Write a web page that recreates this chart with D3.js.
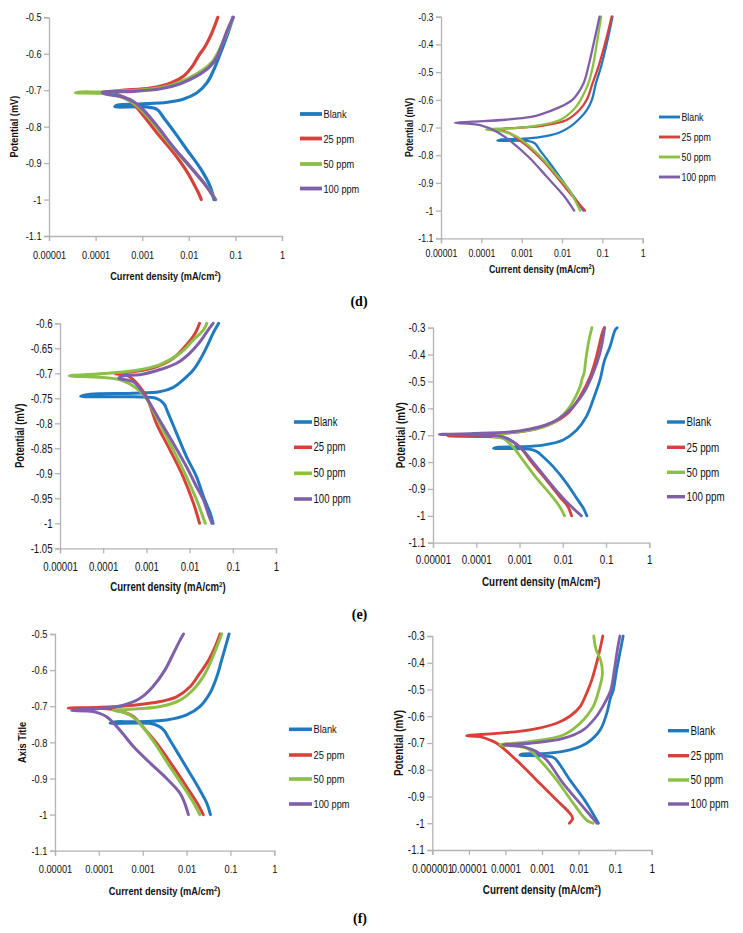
<!DOCTYPE html>
<html><head><meta charset="utf-8">
<script src="https://cdn.jsdelivr.net/npm/d3@7"></script>
<style>
html,body{margin:0;padding:0;background:#fff;}
text{font-family:"Liberation Sans",Arial,sans-serif;}
</style></head>
<body>
<svg id="c" width="743" height="933"></svg>
<script>
// ---- data ----
const seriesNames = ["Blank","25 ppm","50 ppm","100 ppm"];
const seriesColors = ["#1f7ac0","#d8403a","#8cbf45","#7f5fa8"];
const xTickLabels5 = ["0.00001","0.0001","0.001","0.01","0.1","1"];
const xTickLabels6 = ["0.000001","0.00001","0.0001","0.001","0.01","0.1","1"];
const yTicksA = [-0.5,-0.6,-0.7,-0.8,-0.9,-1,-1.1];
const yTicksB = [-0.3,-0.4,-0.5,-0.6,-0.7,-0.8,-0.9,-1,-1.1];
const yTicksC = [-0.6,-0.65,-0.7,-0.75,-0.8,-0.85,-0.9,-0.95,-1,-1.05];
const panelLabels = ["(d)","(e)","(f)"];

// [current density (mA/cm2), potential]
const p1Blank = [[0.0347,-1.0],[0.029,-0.965],[0.0176,-0.914],[0.0092,-0.864],[0.0048,-0.813],[0.0029,-0.776],[0.0021,-0.753],[0.0012,-0.746],[0.00026,-0.745],[0.0003,-0.741],[0.0009,-0.738],[0.0035,-0.733],[0.0078,-0.724],[0.015,-0.707],[0.0245,-0.68],[0.0347,-0.643],[0.044,-0.61],[0.065,-0.553],[0.082,-0.515],[0.088,-0.5]];
const p1P25 = [[0.0185,-1.0],[0.0172,-0.99],[0.015,-0.974],[0.0092,-0.924],[0.0048,-0.873],[0.0021,-0.818],[0.0011,-0.772],[0.00056,-0.73],[0.00029,-0.712],[0.00015,-0.707],[0.00022,-0.703],[0.00041,-0.7],[0.0015,-0.694],[0.0041,-0.68],[0.0078,-0.661],[0.012,-0.634],[0.016,-0.607],[0.0224,-0.58],[0.031,-0.544],[0.042,-0.5]];
const p1P50 = [[0.038,-1.0],[0.023,-0.96],[0.0098,-0.905],[0.0042,-0.852],[0.0018,-0.793],[0.00098,-0.755],[0.0006,-0.733],[0.00035,-0.718],[0.00015,-0.709],[0.000037,-0.707],[0.00005,-0.705],[0.00015,-0.705],[0.00041,-0.702],[0.0009,-0.7],[0.0035,-0.689],[0.0092,-0.669],[0.02,-0.645],[0.032,-0.622],[0.045,-0.59],[0.062,-0.55],[0.09,-0.5]];
const p1P100 = [[0.037,-1.0],[0.024,-0.964],[0.0106,-0.909],[0.0046,-0.855],[0.002,-0.795],[0.00106,-0.754],[0.00065,-0.731],[0.00039,-0.719],[0.00015,-0.709],[0.00014,-0.706],[0.00066,-0.703],[0.0025,-0.696],[0.0066,-0.682],[0.015,-0.661],[0.029,-0.634],[0.04,-0.61],[0.05,-0.58],[0.065,-0.54],[0.09,-0.5]];

const p2Blank = [[0.034,-1.0],[0.021,-0.956],[0.0107,-0.896],[0.005,-0.829],[0.0028,-0.781],[0.0021,-0.757],[0.0015,-0.749],[0.00025,-0.748],[0.0003,-0.744],[0.001,-0.741],[0.0028,-0.735],[0.0081,-0.72],[0.016,-0.697],[0.025,-0.673],[0.041,-0.637],[0.055,-0.6],[0.069,-0.541],[0.093,-0.48],[0.129,-0.396],[0.178,-0.3]];
const p2P25 = [[0.037,-1.0],[0.016,-0.938],[0.0074,-0.878],[0.0035,-0.823],[0.0016,-0.775],[0.00076,-0.739],[0.00052,-0.722],[0.0003,-0.706],[0.0008,-0.701],[0.0035,-0.693],[0.013,-0.673],[0.027,-0.637],[0.041,-0.6],[0.057,-0.541],[0.08,-0.48],[0.117,-0.396],[0.17,-0.3]];
const p2P50 = [[0.028,-1.0],[0.016,-0.932],[0.0074,-0.872],[0.0035,-0.817],[0.0016,-0.769],[0.00076,-0.733],[0.00035,-0.715],[0.00013,-0.707],[0.0005,-0.703],[0.0016,-0.697],[0.0089,-0.673],[0.019,-0.637],[0.029,-0.6],[0.045,-0.541],[0.058,-0.48],[0.073,-0.396],[0.093,-0.3]];
const p2P100 = [[0.02,-1.0],[0.0107,-0.944],[0.0042,-0.878],[0.0016,-0.811],[0.00062,-0.757],[0.00024,-0.715],[0.000093,-0.691],[0.000022,-0.683],[0.00006,-0.679],[0.0004,-0.672],[0.0017,-0.662],[0.0035,-0.649],[0.0074,-0.631],[0.018,-0.6],[0.034,-0.541],[0.045,-0.48],[0.061,-0.396],[0.085,-0.3]];

const p3Blank = [[0.035,-1.0],[0.03,-0.98],[0.021,-0.947],[0.0145,-0.907],[0.0085,-0.867],[0.005,-0.82],[0.0032,-0.78],[0.0025,-0.76],[0.0017,-0.75],[0.0005,-0.747],[0.00003,-0.746],[0.00005,-0.742],[0.0005,-0.74],[0.002,-0.737],[0.0042,-0.728],[0.0071,-0.713],[0.0123,-0.693],[0.0174,-0.673],[0.025,-0.647],[0.035,-0.62],[0.047,-0.6]];
const p3P25 = [[0.017,-1.0],[0.0123,-0.96],[0.0071,-0.907],[0.0035,-0.853],[0.0017,-0.8],[0.001,-0.747],[0.0005,-0.713],[0.00035,-0.704],[0.00019,-0.701],[0.0005,-0.697],[0.0017,-0.687],[0.0042,-0.67],[0.0085,-0.643],[0.0135,-0.62],[0.017,-0.6]];
const p3P50 = [[0.023,-1.0],[0.0145,-0.953],[0.0071,-0.893],[0.0035,-0.84],[0.0017,-0.787],[0.001,-0.75],[0.00059,-0.73],[0.00025,-0.713],[0.000085,-0.708],[0.0000165,-0.705],[0.000085,-0.701],[0.0005,-0.695],[0.002,-0.683],[0.006,-0.66],[0.0123,-0.633],[0.021,-0.613],[0.025,-0.6]];
const p3P100 = [[0.033,-1.0],[0.028,-0.985],[0.021,-0.953],[0.0145,-0.927],[0.0085,-0.887],[0.0042,-0.84],[0.002,-0.793],[0.0012,-0.76],[0.00085,-0.74],[0.0005,-0.717],[0.00023,-0.71],[0.0003,-0.705],[0.0007,-0.703],[0.002,-0.693],[0.005,-0.68],[0.01,-0.66],[0.0174,-0.637],[0.027,-0.613],[0.035,-0.6]];

const p4Blank = [[0.036,-1.0],[0.03,-0.972],[0.021,-0.935],[0.0123,-0.879],[0.006,-0.817],[0.0035,-0.78],[0.0025,-0.761],[0.0017,-0.752],[0.00025,-0.749],[0.0003,-0.745],[0.001,-0.743],[0.0035,-0.737],[0.0102,-0.718],[0.021,-0.681],[0.035,-0.631],[0.05,-0.569],[0.072,-0.495],[0.093,-0.42],[0.123,-0.371],[0.162,-0.309],[0.18,-0.3]];
const p4P25 = [[0.016,-1.0],[0.0132,-0.966],[0.0085,-0.929],[0.0042,-0.867],[0.002,-0.805],[0.001,-0.743],[0.0005,-0.712],[0.00012,-0.705],[0.000022,-0.703],[0.00012,-0.697],[0.001,-0.688],[0.0042,-0.665],[0.0123,-0.622],[0.025,-0.557],[0.043,-0.482],[0.06,-0.408],[0.081,-0.321],[0.091,-0.3]];
const p4P50 = [[0.011,-1.0],[0.0085,-0.966],[0.005,-0.917],[0.0025,-0.861],[0.0012,-0.793],[0.0007,-0.743],[0.00042,-0.712],[0.00025,-0.706],[0.00042,-0.695],[0.0025,-0.677],[0.0071,-0.646],[0.0145,-0.594],[0.025,-0.52],[0.028,-0.49],[0.031,-0.47],[0.034,-0.42],[0.039,-0.358],[0.047,-0.3]];
const p4P100 = [[0.027,-1.0],[0.0145,-0.96],[0.006,-0.892],[0.0025,-0.817],[0.001,-0.743],[0.00042,-0.706],[0.00012,-0.7],[0.000014,-0.697],[0.00007,-0.694],[0.001,-0.684],[0.005,-0.656],[0.0145,-0.606],[0.03,-0.544],[0.05,-0.47],[0.072,-0.396],[0.093,-0.3]];

const p5Blank = [[0.035,-1.0],[0.029,-0.969],[0.02,-0.932],[0.012,-0.886],[0.0071,-0.84],[0.0042,-0.794],[0.003,-0.766],[0.0023,-0.755],[0.0015,-0.748],[0.00018,-0.747],[0.00025,-0.743],[0.0006,-0.743],[0.0035,-0.738],[0.01,-0.724],[0.02,-0.701],[0.034,-0.664],[0.049,-0.618],[0.063,-0.572],[0.081,-0.526],[0.093,-0.5]];
const p5P25 = [[0.024,-1.0],[0.0186,-0.974],[0.01,-0.923],[0.005,-0.868],[0.0021,-0.803],[0.001,-0.757],[0.00062,-0.729],[0.00026,-0.711],[0.000107,-0.706],[0.00002,-0.705],[0.000107,-0.703],[0.00062,-0.697],[0.0025,-0.687],[0.0059,-0.674],[0.012,-0.646],[0.02,-0.609],[0.032,-0.572],[0.045,-0.535],[0.058,-0.5]];
const p5P50 = [[0.02,-1.0],[0.0155,-0.974],[0.0085,-0.923],[0.0042,-0.868],[0.0019,-0.803],[0.001,-0.757],[0.00072,-0.738],[0.0004,-0.718],[0.00021,-0.711],[0.00045,-0.709],[0.0025,-0.701],[0.0071,-0.683],[0.014,-0.655],[0.024,-0.618],[0.037,-0.572],[0.049,-0.535],[0.063,-0.5]];
const p5P100 = [[0.011,-1.0],[0.0091,-0.969],[0.0071,-0.941],[0.0035,-0.9],[0.0015,-0.858],[0.00062,-0.812],[0.0003,-0.766],[0.00015,-0.729],[0.000074,-0.715],[0.000024,-0.712],[0.000107,-0.706],[0.00036,-0.697],[0.00087,-0.678],[0.0017,-0.646],[0.0032,-0.6],[0.005,-0.554],[0.0071,-0.517],[0.0085,-0.5]];

const p6Blank = [[0.035,-1.0],[0.0166,-0.925],[0.0058,-0.838],[0.0025,-0.764],[0.002,-0.753],[0.00025,-0.745],[0.0003,-0.741],[0.00135,-0.739],[0.0058,-0.726],[0.0166,-0.701],[0.039,-0.651],[0.059,-0.589],[0.075,-0.53],[0.089,-0.502],[0.11,-0.427],[0.14,-0.352],[0.166,-0.3]];
const p6P25 = [[0.0056,-1.0],[0.0069,-0.982],[0.0058,-0.963],[0.0025,-0.913],[0.0007,-0.838],[0.0002,-0.764],[0.000058,-0.701],[0.000038,-0.689],[0.00002,-0.676],[0.0000087,-0.673],[0.000058,-0.664],[0.00047,-0.651],[0.0025,-0.626],[0.0058,-0.6],[0.011,-0.564],[0.0166,-0.514],[0.023,-0.464],[0.031,-0.402],[0.04,-0.34],[0.046,-0.3]];
const p6P50 = [[0.025,-1.0],[0.0166,-0.988],[0.0072,-0.926],[0.0025,-0.838],[0.00087,-0.764],[0.00038,-0.72],[0.00007,-0.707],[0.00047,-0.695],[0.0038,-0.67],[0.011,-0.626],[0.025,-0.564],[0.036,-0.502],[0.045,-0.44],[0.04,-0.39],[0.03,-0.35],[0.026,-0.3]];
const p6P100 = [[0.032,-1.0],[0.011,-0.926],[0.0038,-0.851],[0.00135,-0.764],[0.0007,-0.732],[0.00031,-0.714],[0.000087,-0.707],[0.00047,-0.701],[0.0038,-0.683],[0.0135,-0.651],[0.031,-0.6],[0.052,-0.55],[0.076,-0.502],[0.095,-0.427],[0.115,-0.352],[0.135,-0.3]];

// ---- layout ----
const panels = [
  {series:[p1Blank,p1P25,p1P50,p1P100], x0:49,x1:282,y0:17.3,y1:236, xdom:[1e-5,1], xt:xTickLabels5, ydom:[-1.1,-0.5], yt:yTicksA, ytitle:"Potential (mV)", ytx:14, xlaby:19, xtity:40, leg:{lx:300,lw:22,rows:[114,138.5,164,188.5]}, fs:11.5, lw:3.2},
  {series:[p2Blank,p2P25,p2P50,p2P100], x0:441,x1:642.7,y0:16.7,y1:238.3, xdom:[1e-5,1], xt:xTickLabels5, ydom:[-1.1,-0.3], yt:yTicksB, ytitle:"Potential (mV)", ytx:409, xlaby:14.5, xtity:30.5, leg:{lx:659,lw:21,rows:[117,137,157,177]}, fs:11, lw:2.3},
  {series:[p3Blank,p3P25,p3P50,p3P100], x0:60,x1:276,y0:323.3,y1:548.3, xdom:[1e-5,1], xt:xTickLabels5, ydom:[-1.05,-0.6], yt:yTicksC, ytitle:"Potential (mV)", ytx:20, xlaby:18.5, xtity:38.5, leg:{lx:294,lw:18,rows:[422,447.3,473.3,499]}, fs:12, lw:3},
  {series:[p4Blank,p4P25,p4P50,p4P100], x0:433,x1:649.3,y0:327.7,y1:542.7, xdom:[1e-5,1], xt:xTickLabels5, ydom:[-1.1,-0.3], yt:yTicksB, ytitle:"Potential (mV)", ytx:401, xlaby:17.5, xtity:39, leg:{lx:667,lw:18,rows:[422,447.3,472.3,496.7]}, fs:12.3, lw:2.8},
  {series:[p5Blank,p5P25,p5P50,p5P100], x0:55,x1:274.3,y0:634,y1:850.7, xdom:[1e-5,1], xt:xTickLabels5, ydom:[-1.1,-0.5], yt:yTicksA, ytitle:"Axis Title", ytx:22, xlaby:18.5, xtity:40, leg:{lx:289,lw:23,rows:[729.3,755,779,804]}, fs:11.6, lw:3},
  {series:[p6Blank,p6P25,p6P50,p6P100], x0:432.3,x1:651.7,y0:636,y1:850, xdom:[1e-6,1], xt:xTickLabels6, ydom:[-1.1,-0.3], yt:yTicksB, ytitle:"Potential (mV)", ytx:399, xlaby:19, xtity:39.5, leg:{lx:668,lw:21,rows:[730.7,755.7,780,804]}, fs:12.3, lw:2.8}
];
const labelPos = [{x:359,y:306},{x:359.5,y:619},{x:360,y:923}];

const SQ = 0.8; // horizontal squeeze to imitate a narrow (Calibri-like) face
const svg = d3.select("#c");
const axisColor = "#b3b3b3";
const textColor = "#111";

function squeeze(sel, k) {
  sel.each(function() {
    const t = d3.select(this);
    const ax = +t.attr("x") || 0, ay = +t.attr("y") || 0;
    t.attr("transform", `translate(${ax},${ay}) scale(${k},1) translate(${-ax},${-ay})`);
  });
}

panels.forEach(p => {
  const x = d3.scaleLog().domain(p.xdom).range([p.x0, p.x1]);
  const y = d3.scaleLinear().domain(p.ydom).range([p.y1, p.y0]);
  const g = svg.append("g");

  const ya = d3.axisLeft(y).tickValues(p.yt).tickSize(5).tickPadding(3).tickFormat(d => String(d));
  const yg = g.append("g").attr("transform", `translate(${p.x0},0)`).call(ya);
  const xvals = p.xt.map(Number);
  const xa = d3.axisBottom(x).tickValues(xvals).tickSize(5).tickFormat((d,i) => p.xt[i]);
  const xg = g.append("g").attr("transform", `translate(0,${p.y1})`).call(xa);
  [yg, xg].forEach(a => {
    a.select(".domain").attr("stroke", axisColor).attr("stroke-width", 1.3);
    a.selectAll(".tick line").attr("stroke", axisColor).attr("stroke-width", 1.3);
    a.selectAll(".tick text").attr("fill", textColor).style("font-size", p.fs + "px").style("font-family", '"Liberation Sans",Arial,sans-serif');
  });
  yg.selectAll(".tick text").attr("x", -7.5);
  xg.selectAll(".tick text").attr("y", p.xlaby).attr("dy", "0.35em");
  squeeze(yg.selectAll(".tick text"), SQ);
  squeeze(xg.selectAll(".tick text"), SQ);

  const line = d3.line().x(d => x(d[0])).y(d => y(d[1])).curve(d3.curveCatmullRom.alpha(0.5));
  p.series.forEach((s, i) => {
    g.append("path").datum(s).attr("d", line).attr("fill", "none")
      .attr("stroke", seriesColors[i]).attr("stroke-width", p.lw)
      .attr("stroke-linejoin", "round").attr("stroke-linecap", "round");
  });

  const cx = (p.x0 + p.x1) / 2, cy = (p.y0 + p.y1) / 2;
  g.append("text").attr("transform", `translate(${p.ytx},${cy}) rotate(-90) scale(${SQ},1)`)
    .attr("text-anchor", "middle").attr("dy", "0.35em").attr("font-weight", "bold")
    .style("font-size", p.fs + "px").attr("fill", textColor).text(p.ytitle);
  const xt = g.append("text").attr("x", cx).attr("y", p.y1 + p.xtity).attr("dy", "0.35em")
    .attr("text-anchor", "middle").attr("font-weight", "bold").style("font-size", p.fs + "px").attr("fill", textColor);
  xt.append("tspan").text("Current density (mA/cm");
  xt.append("tspan").attr("dy", -4).style("font-size", (p.fs * 0.65) + "px").text("2");
  xt.append("tspan").attr("dy", 4).text(")");
  squeeze(xt, SQ);

  seriesNames.forEach((n, i) => {
    const ry = p.leg.rows[i];
    g.append("line").attr("x1", p.leg.lx).attr("x2", p.leg.lx + p.leg.lw).attr("y1", ry).attr("y2", ry)
      .attr("stroke", seriesColors[i]).attr("stroke-width", p.lw + 0.6);
    const lt = g.append("text").attr("x", p.leg.lx + p.leg.lw + 1.5).attr("y", ry).attr("dy", "0.35em")
      .style("font-size", p.fs + "px").attr("fill", textColor).text(n);
    squeeze(lt, SQ);
  });
});

panelLabels.forEach((t, i) => {
  svg.append("text").attr("x", labelPos[i].x).attr("y", labelPos[i].y).attr("text-anchor", "middle")
    .style("font-family", '"Liberation Serif","Times New Roman",serif').style("font-size", "14px")
    .attr("font-weight", "bold").attr("fill", "#000").text(t);
});
</script>
</body></html>
